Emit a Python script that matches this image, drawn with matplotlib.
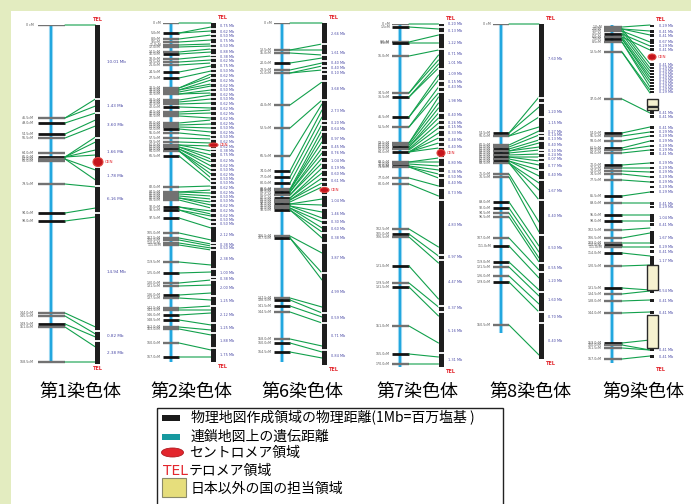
import numpy as np
import matplotlib
matplotlib.use("Agg")
import matplotlib.pyplot as plt
from matplotlib.patches import Rectangle, Ellipse, ConnectionPatch

plt.rcParams['font.family'] = ['Noto Sans CJK JP', 'DejaVu Sans']

# ---------------- data ----------------
chrom_names = ["第1染色体", "第2染色体", "第6染色体", "第7染色体", "第8染色体", "第9染色体"]

# Chromosome 1
chr1_gen_len = 168.5
chr1_marker_cm = [0, 46.5, 49, 54.5, 56.5, 64, 66, 67, 68, 79.5, 94, 98, 144, 145.5, 149.5, 151, 168.5]
chr1_bold_cm = [49, 54.5, 66, 94, 98, 149.5]
chr1_bar_mb = 42.375
chr1_breaks_mb = [9.25, 11.0, 14.1, 17.75, 20.1, 23.5, 38.25, 39.5]
chr1_seg_labels = ["10.01 Mb", "1.43 Mb", "3.60 Mb", "1.66 Mb", "1.78 Mb", "6.16 Mb", "14.94 Mb", "0.82 Mb", "2.38 Mb"]
chr1_link_cm = [0, 46.5, 46.5, 49, 54.5, 56.5, 66, 66, 66, 66, 67, 67, 79.5, 94, 98, 144, 145.5, 149.5, 151, 168.5]
chr1_link_mb = [0, 9.25, 10.125, 11.0, 11.875, 12.625, 14.0, 14.625, 15.625, 16.25, 18.125, 19.375, 20.25,
                22.875, 24.0, 37.75, 38.625, 39.0, 40.25, 42.125]
chr1_cen_mb = 17.125

# Chromosome 2
chr2_gen_len = 169.5
chr2_marker_cm = [0, 5, 8, 9.5, 11, 12, 14.5, 15.5, 18, 19.5, 21, 24.5, 27.5, 32.5, 33.5, 34.5, 35.5, 38.5, 39.5,
                  40.5, 42, 44.5, 45.5, 46.5, 50, 51, 52, 53, 55, 57.5, 59.5, 61, 62, 63, 64, 66.5, 82, 84.5, 85.5,
                  86.5, 87.5, 88.5, 92, 93.5, 97.5, 105, 107.5, 108.5, 110, 111, 119.5, 125, 130, 131.5, 136,
                  137.5, 142.5, 143.5, 146, 148.5, 152, 153, 160, 167]
chr2_bold_cm = [5, 15.5, 24.5, 27.5, 42, 53, 63, 66.5, 92, 93.5, 97.5, 125, 136, 146, 148.5, 167]
chr2_bar_mb = 42.375
chr2_breaks_mb = [0.75, 1.375, 1.875, 2.625, 3.125, 4.0, 4.375, 5.0, 5.75, 6.25, 6.875, 7.5, 8.125, 8.625, 9.25,
                  9.75, 10.375, 11.0, 11.625, 12.25, 12.875, 13.375, 14.0, 14.5, 15.125, 15.75, 16.125, 16.875,
                  17.5, 18.125, 18.625, 19.25, 19.75, 20.25, 20.875, 21.5, 22.0, 22.5, 23.125, 23.75, 24.375,
                  24.875, 25.375, 27.5, 27.875, 28.375, 30.75, 31.75, 32.125, 34.125, 35.375, 37.5, 38.75, 40.625]
chr2_link_cm = [0, 5, 5, 8, 9.5, 11, 12, 14.5, 15.5, 18, 19.5, 21, 24.5, 27.5,
                32.5, 32.5, 33.5, 33.5, 34.5, 35.5, 35.5,
                38.5, 39.5, 40.5, 42, 44.5, 45.5, 46.5,
                50, 51, 52, 53, 55, 57.5,
                59.5, 61, 61, 62, 62, 63, 63, 64, 64, 64, 66.5,
                82, 84.5, 84.5, 85.5, 86.5, 87.5, 87.5, 88.5, 92, 92, 93.5, 93.5, 97.5,
                105, 107.5, 108.5, 110, 111, 119.5, 125, 130, 131.5, 136, 137.5, 142.5, 143.5, 146, 148.5,
                152, 153, 160, 167]
chr2_link_mb = [0, 0.5, 1.0, 1.5, 2.125, 2.625, 2.875, 3.25, 3.625, 4.125, 4.625, 5.0, 5.375, 6.0,
                6.375, 6.75, 7.125, 7.625, 7.875, 8.375, 8.75,
                9.0, 9.5, 10.0, 10.625, 10.875, 11.25, 11.875,
                12.125, 12.625, 13.125, 13.625, 14.125, 14.5,
                15.0, 15.375, 16.0, 16.5, 17.0, 17.375, 17.875, 18.375, 18.875, 19.375, 19.875,
                20.375, 20.875, 21.25, 21.625, 22.0, 22.375, 22.75, 23.125, 23.5, 23.875, 24.125, 24.625, 25.625,
                27.125, 27.625, 27.875, 28.125, 28.375, 30.25, 31.125, 32.125, 32.75, 33.75, 34.625, 35.375,
                35.875, 36.25, 37.75, 38.375, 39.0, 40.875, 41.75]
chr2_cen_mb = 15.25

# Chromosome 6
chr6_gen_len = 169.5
chr6_marker_cm = [0, 13.5, 15, 20, 23.5, 25, 41, 52.5, 66.5, 74, 77, 80, 83, 83.5, 84.5, 86, 87.5, 88.5, 89.5,
                  90.5, 91.5, 92.5, 93.5, 106.5, 107.5, 137.5, 138.5, 141.5, 144.5, 158, 160, 164.5]
chr6_bold_cm = [20, 74, 77, 80, 84.5, 87.5, 90.5, 93.5, 107.5, 138.5, 141.5, 160, 164.5]
chr6_bar_mb = 42.75
chr6_breaks_mb = [2.625, 4.0, 4.75, 5.375, 5.875, 6.375, 7.25, 9.625, 12.25, 12.75, 13.625, 15.25, 15.875, 16.75,
                  17.5, 18.375, 19.25, 19.875, 20.5, 21.5, 23.125, 24.625, 25.25, 26.25, 27.5, 31.25, 36.25,
                  37.5, 40.875]
chr6_lab_mb = [1.375, 3.75, 5.0, 5.625, 6.25, 8.25, 11.0, 12.5, 13.25, 14.5, 15.5, 16.25, 17.25, 18.125,
               18.875, 19.75, 22.25, 23.875, 24.875, 25.75, 26.875, 29.375, 33.625, 36.875, 39.125, 41.625]
chr6_lab_txt = ["2.66 Mb", "1.61 Mb", "0.40 Mb", "0.40 Mb", "0.10 Mb", "3.68 Mb", "2.73 Mb", "0.20 Mb",
                "0.64 Mb", "0.97 Mb", "0.45 Mb", "0.76 Mb", "1.04 Mb", "0.19 Mb", "0.60 Mb", "0.61 Mb",
                "1.04 Mb", "1.46 Mb", "0.30 Mb", "0.60 Mb", "0.38 Mb", "3.87 Mb", "4.99 Mb", "0.59 Mb",
                "0.71 Mb", "0.84 Mb"]
chr6_link_cm = [0, 13.5, 13.5, 15, 20, 23.5, 25, 25, 41, 52.5, 66.5, 74, 77, 80, 83, 83.5, 83.5, 84.5, 84.5,
                86, 86, 87.5, 87.5, 88.5, 88.5, 89.5, 90.5, 90.5, 91.5, 91.5, 92.5, 92.5, 93.5, 93.5, 106.5,
                107.5, 107.5, 137.5, 138.5, 141.5, 144.5, 158, 160, 164.5]
chr6_link_mb = [0, 2.625, 3.375, 4.0, 4.375, 5.0, 5.375, 5.875, 7.375, 9.625, 10.125, 10.875, 11.75, 12.625,
                13.375, 14.125, 14.875, 15.625, 16.25, 16.875, 17.5, 18.125, 18.75, 19.375, 20.0, 20.5, 22.0,
                22.75, 23.625, 24.375, 24.875, 25.625, 26.125, 26.875, 28.75, 31.25, 32.125, 35.5, 36.25,
                36.75, 37.5, 40.375, 41.125, 41.875]
chr6_cen_mb = 20.875

# Chromosome 7
chr7_gen_len = 171.5
chr7_marker_cm = [0, 1.5, 9, 9.5, 16, 34.5, 36.5, 46.5, 51.5, 59.5, 60.5, 61.5, 62.5, 64, 69, 70, 71, 71.5, 77,
                  80, 102.5, 105, 106.5, 121, 129.5, 131.5, 151, 165, 170]
chr7_bold_cm = [1.5, 9.5, 36.5, 46.5, 61.5, 64, 71, 105, 121, 131.5, 165]
chr7_bar_mb = 42.875
chr7_breaks_mb = [0.375, 1.125, 3.125, 5.625, 7.125, 7.875, 8.5, 11.125, 12.0, 12.625, 13.25, 14.125, 14.75,
                  15.375, 16.75, 17.875, 18.625, 19.25, 20.5, 22.0, 28.875, 29.5, 35.25, 36.0, 41.125]
chr7_lab_mb = [0.0, 0.875, 2.375, 3.75, 4.875, 6.25, 7.25, 7.875, 9.625, 11.375, 12.375, 12.875, 13.625, 14.5,
               15.375, 17.375, 18.5, 19.125, 19.875, 21.125, 25.125, 29.125, 32.25, 35.5, 38.375, 42.0]
chr7_lab_txt = ["0.20 Mb", "0.13 Mb", "1.22 Mb", "0.71 Mb", "1.01 Mb", "1.09 Mb", "0.15 Mb", "0.43 Mb",
                "1.98 Mb", "0.40 Mb", "0.26 Mb", "0.15 Mb", "0.33 Mb", "0.48 Mb", "0.40 Mb", "0.80 Mb",
                "0.36 Mb", "0.50 Mb", "0.40 Mb", "0.73 Mb", "4.83 Mb", "0.97 Mb", "4.47 Mb", "0.37 Mb",
                "5.16 Mb", "1.31 Mb"]
chr7_link_cm = [0, 1.5, 9, 9.5, 16, 34.5, 34.5, 36.5, 36.5, 46.5, 46.5, 51.5, 51.5, 59.5, 59.5, 60.5, 61.5, 61.5,
                62.5, 63, 64, 64, 64, 64, 69, 69, 70, 71, 71.5, 71.5, 77, 80, 102.5, 105, 106.5, 121, 129.5,
                131.5, 151, 165, 170]
chr7_link_mb = [0, 0.625, 1.375, 2.375, 3.25, 3.875, 4.5, 5.0, 5.5, 6.375, 7.0, 7.875, 8.625, 9.125, 9.875,
                10.5, 11.125, 11.75, 12.375, 13.0, 13.625, 14.25, 14.875, 15.5, 16.75, 17.25, 17.75, 18.25,
                18.75, 19.25, 20.25, 21.5, 27.875, 29.0, 29.875, 34.375, 35.375, 36.5, 39.875, 41.625, 42.5]
chr7_cen_mb = 16.125

# Chromosome 8
chr8_gen_len = 154.5
chr8_marker_cm = [0, 54.5, 56, 60.5, 61.5, 62.5, 63.5, 64.5, 65.5, 66.5, 67.5, 68.5, 69.5, 75, 76.5, 89, 92,
                  94.5, 96.5, 107, 111, 119, 121.5, 126, 129, 150.5]
chr8_bold_cm = [54.5, 62.5, 64.5, 66.5, 68.5, 89, 92, 111, 119, 129]
chr8_bar_mb = 41.875
chr8_breaks_mb = [9.25, 9.875, 11.625, 13.625, 14.0, 14.625, 15.75, 16.125, 16.75, 17.25, 18.25, 19.5, 22.0,
                  26.375, 29.875, 31.0, 33.5, 36.0, 37.375]
chr8_lab_mb = [4.375, 11.0, 12.375, 13.5, 13.875, 14.375, 15.125, 15.875, 16.375, 16.875, 17.75, 18.875,
               20.875, 24.0, 28.0, 30.5, 32.125, 34.5, 36.625, 39.625]
chr8_lab_txt = ["7.60 Mb", "1.20 Mb", "1.15 Mb", "0.27 Mb", "0.14 Mb", "0.13 Mb", "0.40 Mb", "0.10 Mb",
                "0.24 Mb", "0.07 Mb", "0.77 Mb", "0.40 Mb", "1.67 Mb", "0.40 Mb", "0.50 Mb", "0.55 Mb",
                "1.20 Mb", "1.60 Mb", "0.70 Mb", "0.40 Mb"]
chr8_link_cm = [0, 54.5, 54.5, 56, 56, 60.5, 61.5, 62.5, 63.5, 63.5, 64.5, 65.5, 66.5, 66.5, 67.5, 68.5, 68.5,
                69.5, 69.5, 69.5, 75, 76.5, 89, 92, 94.5, 96.5, 107, 111, 119, 121.5, 126, 129, 150.5]
chr8_link_mb = [0, 9.125, 10.375, 11.625, 12.875, 13.375, 13.875, 14.5, 14.875, 15.375, 15.75, 16.25, 16.625,
                17.125, 17.625, 18.25, 19.0, 19.875, 20.75, 22.0, 24.75, 26.0, 27.75, 28.5, 29.25, 29.75,
                30.75, 31.75, 33.25, 34.0, 35.0, 36.0, 41.375]

# Chromosome 9 (contig blocks instead of a continuous bar)
chr9_gen_len = 169
chr9_marker_cm = [1, 2, 3, 4.5, 6, 7, 8.5, 13.5, 37, 54, 55.5, 58, 61.5, 62.5, 64, 70, 71.5, 73, 74.5, 77.5,
                  85.5, 89, 95, 98, 102.5, 106.5, 109, 110, 111, 114, 120.5, 131.5, 134.5, 138, 144, 159, 160,
                  161.5, 167]
chr9_bold_cm = [4.5, 7, 54, 61.5, 70, 85.5, 95, 98, 110, 114, 131.5, 159]
chr9_bar_mb = 42.5
chr9_block_start = [0, 0.625, 1.125, 1.75, 2.5, 2.875, 4.75, 5.25, 5.625, 6.0, 6.375, 6.75, 7.125, 7.5, 7.875,
                    8.25, 10.75, 11.25, 12.625, 13.25, 13.75, 14.375, 15.0, 15.5, 15.875, 17.125, 17.75, 18.25,
                    18.875, 19.5, 20.125, 20.75, 22.125, 22.625, 23.625, 24.75, 25.75, 27.625, 28.125, 28.875,
                    33.0, 34.25, 35.75, 40.375, 41.25]
chr9_block_end = [0.25, 1.0, 1.5, 2.375, 2.75, 3.25, 5.125, 5.5, 5.875, 6.25, 6.625, 7.0, 7.375, 7.75, 8.125,
                  8.5, 11.125, 11.625, 13.0, 13.5, 14.0, 14.625, 15.25, 15.75, 16.25, 17.375, 18.0, 18.5,
                  19.125, 19.75, 20.375, 21.0, 22.5, 22.875, 24.625, 25.125, 27.375, 27.875, 28.5, 30.0,
                  33.5, 34.625, 36.125, 40.75, 41.625]
chr9_foreign_start = [9.25, 10.25, 30.0, 36.25]
chr9_foreign_end = [10.125, 10.625, 33.125, 40.375]
chr9_link_cm = [1, 2, 2, 3, 4.5, 6, 2, 3, 4.5, 6, 7, 7, 8.5, 8.5, 13.5, 13.5, 37, 54, 55.5, 58, 61.5, 62.5, 64,
                70, 71.5, 73, 74.5, 77.5, 85.5, 89, 95, 98, 102.5, 106.5, 109, 111, 114, 120.5, 131.5, 134.5,
                138, 144, 159, 160, 161.5, 167]
chr9_link_mb = [0, 0.75, 1.25, 2.125, 2.625, 3.125, 4.875, 5.375, 5.75, 6.125, 6.5, 6.875, 7.25, 7.75, 8.125,
                8.5, 11.0, 12.75, 13.375, 13.875, 14.5, 15.125, 15.625, 17.25, 17.875, 18.375, 19.0, 19.625,
                20.875, 22.25, 23.75, 24.5, 25.375, 26.0, 27.25, 27.75, 28.875, 30.0, 33.125, 33.25, 34.375,
                35.875, 39.375, 40.625, 40.625, 41.375]
chr9_cen_mb = 4.0

legend_labels = ["物理地図作成領域の物理距離(1Mb=百万塩基 )", "連鎖地図上の遺伝距離", "セントロメア領域",
                 "テロメア領域", "日本以外の国の担当領域"]

# ---------------- layout / style ----------------
W, H = 691, 504
PX_CM, PX_MB = 2.0, 8.0
GREEN = '#12a04c'
BLUE = '#22a7df'
RED = '#e3262d'
MBCOL = '#4a4aa6'

fig = plt.figure(figsize=(W / 100, H / 100), dpi=100)
fig.patch.set_facecolor('#e3ecc0')
fig.add_artist(Rectangle((11 / W, 0), 1, (H - 11) / H, transform=fig.transFigure,
                         facecolor='white', edgecolor='none', zorder=-5))

specs = [
    dict(geom=(51, 25, 364), tick=(-13, 14), labx=-17, bx=47, bw=5, gl=chr1_gen_len, mk=chr1_marker_cm,
         bold=chr1_bold_cm, bar=chr1_bar_mb, brk=chr1_breaks_mb, lcm=chr1_link_cm, lmb=chr1_link_mb,
         cen=chr1_cen_mb, cen_size=(10, 9), seglab=chr1_seg_labels, labdx=7, telc=True),
    dict(geom=(171, 23, 362), tick=(-8, 8), labx=-10, bx=42.5, bw=5, gl=chr2_gen_len, mk=chr2_marker_cm,
         bold=chr2_bold_cm, bar=chr2_bar_mb, brk=chr2_breaks_mb, lcm=chr2_link_cm, lmb=chr2_link_mb,
         cen=chr2_cen_mb, cen_size=(9, 4), seglab='auto', labdx=4, telc=False),
    dict(geom=(282, 23, 365), tick=(-8, 8), labx=-10, bx=42.5, bw=5, gl=chr6_gen_len, mk=chr6_marker_cm,
         bold=chr6_bold_cm, bar=chr6_bar_mb, brk=chr6_breaks_mb, lcm=chr6_link_cm, lmb=chr6_link_mb,
         cen=chr6_cen_mb, cen_size=(9, 5), lab=(chr6_lab_mb, chr6_lab_txt), labdx=4, telc=False),
    dict(geom=(400, 24, 367), tick=(-8, 9), labx=-10, bx=41, bw=5, gl=chr7_gen_len, mk=chr7_marker_cm,
         bold=chr7_bold_cm, bar=chr7_bar_mb, brk=chr7_breaks_mb, lcm=chr7_link_cm, lmb=chr7_link_mb,
         cen=chr7_cen_mb, cen_size=(8, 7), lab=(chr7_lab_mb, chr7_lab_txt), labdx=4, telc=False),
    dict(geom=(501, 24, 359), tick=(-8, 8), labx=-10, bx=40.5, bw=5, gl=chr8_gen_len, mk=chr8_marker_cm,
         bold=chr8_bold_cm, bar=chr8_bar_mb, brk=chr8_breaks_mb, lcm=chr8_link_cm, lmb=chr8_link_mb,
         cen=None, lab=(chr8_lab_mb, chr8_lab_txt), labdx=4, telc=False),
    dict(geom=(612, 25, 365), tick=(-8, 10), labx=-10, bx=40, bw=4, gl=chr9_gen_len, mk=chr9_marker_cm,
         bold=chr9_bold_cm, bar=chr9_bar_mb, brk=None, lcm=chr9_link_cm, lmb=chr9_link_mb,
         cen=chr9_cen_mb, cen_size=(8, 6), blocks=(chr9_block_start, chr9_block_end),
         foreign=(chr9_foreign_start, chr9_foreign_end), labdx=5, telc=False),
]
title_x = [80, 191, 302, 417, 530, 643]


def draw(s):
    lx, top, bot = s['geom']
    ax = fig.add_axes([(lx - 45) / W, 1 - bot / H, 110 / W, (bot - top) / H])
    ax.set_xlim(-45, 65)
    ax.set_ylim((bot - top) / PX_CM, 0)
    ax.axis('off')
    ax2 = ax.twinx()
    ax2.set_ylim((bot - top) / PX_MB, 0)
    ax2.axis('off')

    # genetic map
    ax.plot([0, 0], [0, s['gl']], color='#b5e2f6', lw=3.0, solid_capstyle='butt', zorder=2)
    ax.plot([0, 0], [0, s['gl']], color=BLUE, lw=1.7, solid_capstyle='butt', zorder=2)
    t0, t1 = s['tick']
    for c in s['mk']:
        isb = np.any(np.isclose(c, s['bold']))
        ax.plot([t0, t1], [c, c], color='#141414' if isb else '#727272',
                lw=2.0 if isb else 1.7, solid_capstyle='butt', zorder=3)
        txt = "0 cM" if c == 0 else f"{c:.1f}cM"
        ax.text(s['labx'], c, txt, fontsize=2.3, ha='right', va='center', color='#555555',
                family='DejaVu Sans', clip_on=False)

    bx, bw = s['bx'], s['bw']
    # physical map
    if s.get('blocks') is None:
        ax2.add_patch(Rectangle((bx - bw / 2, 0), bw, s['bar'], facecolor='#1e1e1e',
                                edgecolor='none', zorder=3))
        ax2.hlines(s['brk'], bx - bw / 2 - 0.6, bx + bw / 2 + 0.6, color='white', lw=1.3, zorder=4)
        edges = [0] + list(s['brk']) + [s['bar']]
        mids = [(a + b) / 2 for a, b in zip(edges[:-1], edges[1:])]
        if s.get('seglab') == 'auto':
            labs = [f"{b - a:.2f} Mb" for a, b in zip(edges[:-1], edges[1:])]
            lpos = mids
        elif s.get('seglab') is not None:
            labs = s['seglab']
            lpos = mids
        else:
            lpos, labs = s['lab']
    else:
        st, en = s['blocks']
        for a, b in zip(st, en):
            ax2.add_patch(Rectangle((bx - bw / 2, a), bw, b - a, facecolor='#1e1e1e',
                                    edgecolor='none', zorder=3))
        fs, fe = s['foreign']
        for a, b in zip(fs, fe):
            ax2.add_patch(Rectangle((bx - 5.5, a), 11, b - a, facecolor='#f6f1cf',
                                    edgecolor='#2a2a2a', lw=1.0, zorder=4))
        lpos = [(a + b) / 2 for a, b in zip(st, en)]
        labs = [f"{b - a + 0.04:.2f} Mb" for a, b in zip(st, en)]

    fs_lab = 3.0 if s.get('seglab') is not None and s.get('seglab') != 'auto' else 2.5
    for p, t in zip(lpos, labs):
        ax2.text(bx + bw / 2 + s['labdx'], p, t, fontsize=fs_lab, ha='left', va='center', color=MBCOL,
                 family='DejaVu Sans', clip_on=False)

    # links
    for c, m in zip(s['lcm'], s['lmb']):
        con = ConnectionPatch(xyA=(t1, c), coordsA=ax.transData, xyB=(bx - bw / 2, m),
                              coordsB=ax2.transData, color=GREEN, lw=0.8, zorder=1, clip_on=False)
        ax2.add_artist(con)

    # centromere
    if s.get('cen') is not None:
        cw, ch = s['cen_size']
        ax2.add_patch(Ellipse((bx, s['cen']), cw, ch / PX_MB, facecolor='#c4141c',
                              edgecolor='#e0463f', lw=0.8, zorder=6))
        ax2.text(bx + cw / 2 + 2, s['cen'], "CEN", fontsize=3.0, color=RED, ha='left', va='center',
                 family='DejaVu Sans', clip_on=False)

    # telomeres
    if s['telc']:
        tx, ha = bx, 'center'
    else:
        tx, ha = bx + bw / 2 + 2, 'left'
    ax2.text(tx, -0.65, "TEL", fontsize=3.6, color=RED, ha=ha, va='center', fontweight='bold',
             family='DejaVu Sans', clip_on=False)
    ax2.text(tx, s['bar'] + 0.55, "TEL", fontsize=3.6, color=RED, ha=ha, va='center', fontweight='bold',
             family='DejaVu Sans', clip_on=False)


for s in specs:
    draw(s)

for name, x in zip(chrom_names, title_x):
    fig.text(x / W, 1 - 392 / H, name, ha='center', va='center', fontsize=13, color='black')

# ---------------- legend ----------------
lax = fig.add_axes([156 / W, 0, (504 - 156) / W, (504 - 407) / H])
lax.set_xlim(156, 504)
lax.set_ylim(504, 407)
lax.axis('off')
lax.add_patch(Rectangle((156.5, 407.5), 346.5, 110, fill=False, edgecolor='#222222', lw=1.0, clip_on=False))
lax.add_patch(Rectangle((162, 415), 18, 6, facecolor='#1a1a1a', edgecolor='none'))
lax.add_patch(Rectangle((162, 434), 18, 6, facecolor='#16999f', edgecolor='none'))
lax.add_patch(Ellipse((172.5, 452.5), 22, 9, facecolor='#e3262d', edgecolor='#b01a20', lw=0.6))
lax.add_patch(Rectangle((162, 478), 24, 19, facecolor='#e6de7c', edgecolor='#8a8a6a', lw=0.8))
lax.text(191, 418, legend_labels[0], fontsize=10, va='center', ha='left')
lax.text(191, 437, legend_labels[1], fontsize=10, va='center', ha='left')
lax.text(189, 453, legend_labels[2], fontsize=10, va='center', ha='left')
lax.text(163, 471, "TEL", fontsize=10, va='center', ha='left', color=RED, family='DejaVu Sans')
lax.text(189, 471, legend_labels[3], fontsize=10, va='center', ha='left')
lax.text(191, 489, legend_labels[4], fontsize=10, va='center', ha='left')

fig.savefig('out.png', dpi=100, facecolor=fig.get_facecolor())
